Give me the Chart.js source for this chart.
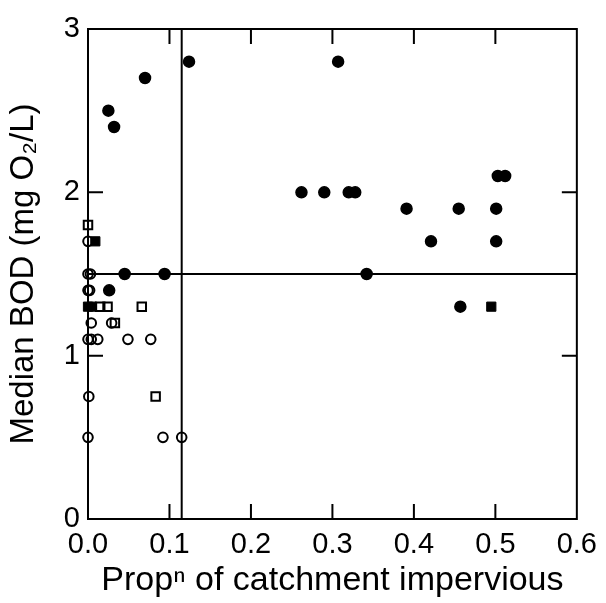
<!DOCTYPE html>
<html>
<head>
<meta charset="utf-8">
<title>Median BOD vs catchment imperviousness</title>
<script src="https://cdn.jsdelivr.net/npm/chart.js@4.4.1/dist/chart.umd.min.js"></script>
<style>
  html, body { margin: 0; padding: 0; background: #fff; }
  #wrap { width: 606px; height: 603px; }
</style>
</head>
<body>
<div id="wrap"><canvas id="bodChart" width="606" height="603"></canvas></div>
<script>
// Data (x = proportion impervious, y = median BOD)
const filledCircles = [
  [0.025, 2.5], [0.032, 2.4], [0.070, 2.7], [0.124, 2.8], [0.307, 2.8],
  [0.262, 2.0], [0.290, 2.0], [0.320, 2.0], [0.328, 2.0],
  [0.391, 1.9], [0.455, 1.9], [0.501, 1.9], [0.503, 2.1], [0.512, 2.1],
  [0.421, 1.7], [0.501, 1.7], [0.342, 1.5], [0.457, 1.3],
  [0.045, 1.5], [0.094, 1.5], [0.026, 1.4]
];
const filledSquares = [[0.009, 1.7], [0.000, 1.3], [0.005, 1.3], [0.495, 1.3]];
const openSquares = [
  [0.000, 1.8], [0.015, 1.3], [0.024, 1.3], [0.066, 1.3], [0.033, 1.2], [0.083, 0.75]
];
const openCircles = [
  [0.000, 1.7], [0.003, 1.5], [0.000, 1.5], [0.000, 1.4], [0.002, 1.4],
  [0.004, 1.2], [0.029, 1.2], [0.000, 1.1], [0.004, 1.1], [0.012, 1.1],
  [0.049, 1.1], [0.077, 1.1], [0.001, 0.75], [0.000, 0.5], [0.092, 0.5], [0.115, 0.5]
];

// Reference lines
const hLine = [[0, 1.5], [0.6, 1.5]];
const vLine = [[0.115, 0], [0.115, 3]];

// Axes
const xTickLabels = ['0.0', '0.1', '0.2', '0.3', '0.4', '0.5', '0.6'];
const yTickLabels = ['0', '1', '2', '3'];
const xTickValues = [0.1, 0.2, 0.3, 0.4, 0.5];
const yTickValues = [1, 2];

const FONT = 'Liberation Sans, Arial, Helvetica, sans-serif';

function toPoints(arr) {
  return arr.map(p => ({ x: p[0], y: p[1] }));
}

// Frame plus inward tick marks on all four sides
const framePlugin = {
  id: 'frame',
  afterDatasetsDraw(chart) {
    const { ctx, chartArea: a, scales } = chart;
    const len = 15;
    ctx.save();
    ctx.strokeStyle = '#000';
    ctx.lineWidth = 2;
    ctx.strokeRect(a.left, a.top, a.right - a.left, a.bottom - a.top);
    ctx.beginPath();
    xTickValues.forEach(v => {
      const px = scales.x.getPixelForValue(v);
      ctx.moveTo(px, a.bottom); ctx.lineTo(px, a.bottom - len);
      ctx.moveTo(px, a.top); ctx.lineTo(px, a.top + len);
    });
    yTickValues.forEach(v => {
      const py = scales.y.getPixelForValue(v);
      ctx.moveTo(a.left, py); ctx.lineTo(a.left + len, py);
      ctx.moveTo(a.right, py); ctx.lineTo(a.right - len, py);
    });
    ctx.stroke();
    ctx.restore();
  }
};

document.addEventListener('DOMContentLoaded', function() {
  const ctx = document.getElementById('bodChart');

  new Chart(ctx, {
    type: 'scatter',
    data: {
      datasets: [
        {
          data: toPoints(hLine), showLine: true, borderColor: '#000',
          borderWidth: 2, pointRadius: 0, clip: false
        },
        {
          data: toPoints(vLine), showLine: true, borderColor: '#000',
          borderWidth: 2, pointRadius: 0, clip: false
        },
        {
          data: toPoints(openCircles), pointStyle: 'circle', pointRadius: 4.8,
          backgroundColor: 'rgba(0,0,0,0)', borderColor: '#000', borderWidth: 2, clip: false
        },
        {
          data: toPoints(openSquares), pointStyle: 'rect', pointRadius: 6,
          backgroundColor: 'rgba(0,0,0,0)', borderColor: '#000', borderWidth: 2, clip: false
        },
        {
          data: toPoints(filledSquares), pointStyle: 'rect', pointRadius: 6.5,
          backgroundColor: '#000', borderColor: '#000', borderWidth: 1, clip: false
        },
        {
          data: toPoints(filledCircles), pointStyle: 'circle', pointRadius: 5.5,
          backgroundColor: '#000', borderColor: '#000', borderWidth: 1.5, clip: false
        }
      ]
    },
    options: {
      responsive: false,
      animation: false,
      events: [],
      layout: { padding: { top: 29, right: 28, left: 0, bottom: 0 } },
      plugins: {
        legend: { display: false },
        tooltip: { enabled: false }
      },
      scales: {
        x: {
          type: 'linear',
          min: 0,
          max: 0.6,
          grid: { display: false, drawTicks: false },
          border: { display: false },
          ticks: {
            stepSize: 0.1,
            padding: 9,
            color: '#000',
            font: { family: FONT, size: 29 },
            maxRotation: 0,
            callback: (v, i) => xTickLabels[i]
          },
          title: {
            display: true,
            text: 'Propⁿ of catchment impervious',
            color: '#000',
            font: { family: FONT, size: 34 },
            padding: { top: 0, bottom: 2 }
          },
          afterFit: s => { s.height = 84; }
        },
        y: {
          type: 'linear',
          min: 0,
          max: 3,
          grid: { display: false, drawTicks: false },
          border: { display: false },
          ticks: {
            stepSize: 1,
            padding: 8,
            color: '#000',
            font: { family: FONT, size: 29 },
            callback: (v, i) => yTickLabels[i]
          },
          title: {
            display: true,
            text: 'Median BOD (mg O₂/L)',
            color: '#000',
            font: { family: FONT, size: 33 },
            padding: { top: 4, bottom: 0 }
          },
          afterFit: s => { s.width = 88; }
        }
      }
    },
    plugins: [framePlugin]
  });
});
</script>
</body>
</html>
